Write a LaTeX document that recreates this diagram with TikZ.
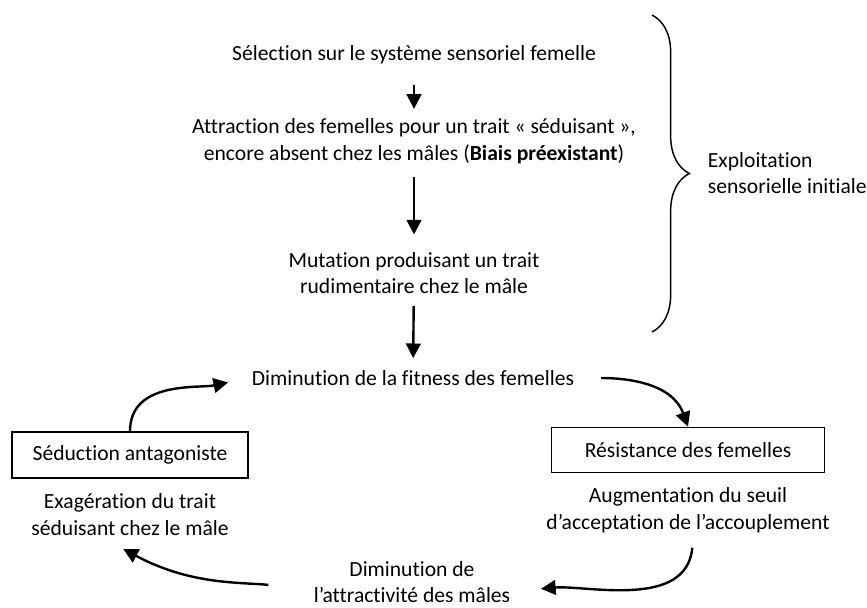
\documentclass[tikz,border=0pt]{standalone}
\usepackage{fontspec}
\setmainfont{Carlito}[Ligatures=NoCommon]
\usetikzlibrary{positioning, arrows.meta, decorations.pathreplacing}
\tikzstyle{txt} = [align=center, inner sep=2pt]
\tikzstyle{box} = [rectangle, draw=black, line width=1.1pt, inner sep=2pt, text centered]
\tikzstyle{arrow} = [line width=1.8pt,->,>={Triangle[length=11pt,width=11pt]}]

\begin{document}
\begin{tikzpicture}[x=0.75pt, y=-0.75pt]
          \fontsize{16.2pt}{20pt}\selectfont
          \useasboundingbox (0,0) rectangle (867,607);
          \node (sel) [txt] at (414,55) {Sélection sur le système sensoriel femelle};
          \node (attr) [txt] at (414,141) {Attraction des femelles pour un trait « séduisant »,\\encore absent chez les mâles (\textbf{Biais préexistant})};
          \node (mut) [txt] at (414,273) {Mutation produisant un trait\\rudimentaire chez le mâle};
          \node (fit) [txt] at (413,378) {Diminution de la fitness des femelles};
          \node (seduc) [box, minimum width=177pt, minimum height=34.5pt] at (130,455) {Séduction antagoniste};
          \node (resist) [box, minimum width=205pt, minimum height=34pt] at (688,450) {Résistance des femelles};
          \node (exag) [txt, below = 9pt of seduc] {Exagération du trait\\séduisant chez le mâle};
          \node (augm) [txt, below = 8.5pt of resist] {Augmentation du seuil\\d’acceptation de l’accouplement};
          \node (attract) [txt, inner sep=1pt] at (412,582) {Diminution de\\l’attractivité des mâles};
          \node (exploit) [txt, align=left, anchor=west] at (705,173) {Exploitation\\sensorielle initiale};

          \draw [decorate, decoration={brace, amplitude=28pt}, line width=1.1pt] (652,15) -- (652,332);

          \draw [arrow, shorten <=13pt, shorten >=5pt] (sel) -- (attr);
          \draw [arrow, shorten <=8pt, shorten >=11pt] (attr) -- (mut);
          \draw [arrow, shorten <=7pt, shorten >=7pt] (mut) -- (fit);
          \draw [arrow, shorten >=16pt] (seduc.north) to[out=90, in=192] (fit.west);
          \draw [arrow, shorten <=18pt] (fit.east) to[out=0, in=110] (resist.north);
          \draw [arrow, shorten <=9pt, shorten >=22pt] ([xshift=4pt]augm.south) to[out=-95, in=5] ([yshift=-7pt]attract.east);
          \draw [arrow, shorten <=33pt] ([yshift=-5pt]attract.west) to[out=175, in=-28] ([xshift=-5pt, yshift=-8pt]exag.south);
        \end{tikzpicture}
\end{document}
